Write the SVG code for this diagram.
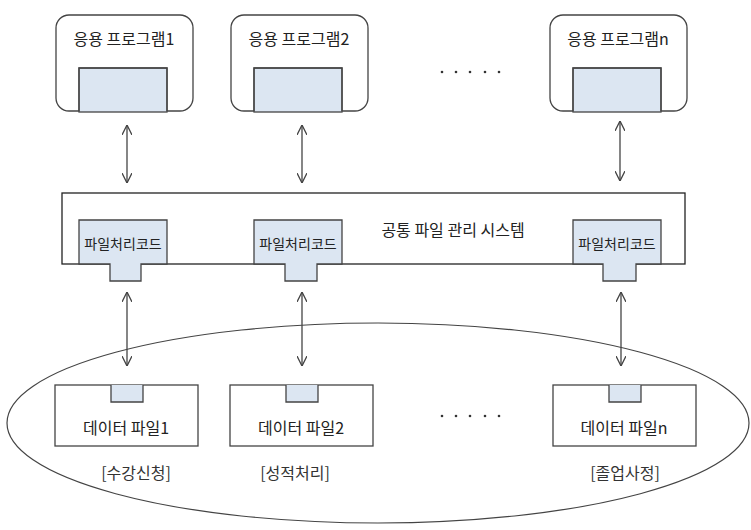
<svg xmlns="http://www.w3.org/2000/svg" width="751" height="530" viewBox="0 0 751 530">
<style>
text{font-family:"Noto Sans CJK KR","Liberation Sans",sans-serif;fill:#222}
.o{fill:#fff;stroke:#444;stroke-width:1.3}
.f{fill:#dce6f2;stroke:#444;stroke-width:1.3}
.t{font-size:16px;text-anchor:middle}
.s{font-size:14px;text-anchor:middle}
.c{stroke:#444;stroke-width:1.3;fill:none;marker-start:url(#a);marker-end:url(#a)}
.d{fill:#333}
</style>
<defs><marker id="a" viewBox="0 0 10 10" refX="10" refY="5" markerWidth="10" markerHeight="10" orient="auto-start-reverse" markerUnits="userSpaceOnUse"><path d="M0,0L10,5L0,10" fill="none" stroke="#444" stroke-width="1.3"/></marker></defs>
<ellipse cx="378" cy="423" rx="371" ry="100" fill="none" stroke="#444" stroke-width="1.2"/>
<g id="app1"><rect class="o" x="56" y="15" width="137" height="96" rx="13"/><rect class="f" x="79" y="68" width="88" height="44" stroke="none"/><path d="M79,111V68H167V111" fill="none" stroke="#444" stroke-width="1.3"/><text class="t" x="124" y="45">응용 프로그램1</text></g>
<g id="app2"><rect class="o" x="231" y="15" width="137" height="96" rx="13"/><rect class="f" x="254" y="68" width="88" height="44" stroke="none"/><path d="M254,111V68H342V111" fill="none" stroke="#444" stroke-width="1.3"/><text class="t" x="299" y="45">응용 프로그램2</text></g>
<g id="appn"><rect class="o" x="550" y="15" width="137" height="96" rx="13"/><rect class="f" x="573" y="68" width="88" height="44" stroke="none"/><path d="M573,111V68H661V111" fill="none" stroke="#444" stroke-width="1.3"/><text class="t" x="618" y="45">응용 프로그램n</text></g>
<g id="dots1"><circle class="d" cx="442" cy="72" r="1.3"/><circle class="d" cx="456" cy="72" r="1.3"/><circle class="d" cx="470" cy="72" r="1.3"/><circle class="d" cx="485" cy="72" r="1.3"/><circle class="d" cx="499" cy="72" r="1.3"/></g>
<g id="fms"><rect x="62" y="193" width="623" height="71" fill="#fff" stroke="#222" stroke-width="1.3"/><text x="453" y="236" class="t">공통 파일 관리 시스템</text>
<path class="f" d="M79,264V220H167V264H141V281H110V264Z"/><text class="s" x="123" y="249">파일처리코드</text>
<path class="f" d="M254,264V220H342V264H317V281H285V264Z"/><text class="s" x="298" y="249">파일처리코드</text>
<path class="f" d="M573,264V220H661V264H636V281H603V264Z"/><text class="s" x="617" y="249">파일처리코드</text></g>
<g id="df1"><rect class="o" x="55" y="385" width="143" height="61"/><path class="f" d="M111,385V402H143V385"/><text class="t" x="126" y="434">데이터 파일1</text><text class="t" x="136" y="479" style="fill:#333">[수강신청]</text></g>
<g id="df2"><rect class="o" x="230" y="385" width="143" height="61"/><path class="f" d="M286,385V402H318V385"/><text class="t" x="301" y="434">데이터 파일2</text><text class="t" x="295" y="479" style="fill:#333">[성적처리]</text></g>
<g id="dfn"><rect class="o" x="553" y="385" width="143" height="61"/><path class="f" d="M609,385V402H641V385"/><text class="t" x="624" y="434">데이터 파일n</text><text class="t" x="625" y="479" style="fill:#333">[졸업사정]</text></g>
<g id="dots2"><circle class="d" cx="442" cy="416" r="1.3"/><circle class="d" cx="456" cy="416" r="1.3"/><circle class="d" cx="470" cy="416" r="1.3"/><circle class="d" cx="485" cy="416" r="1.3"/><circle class="d" cx="499" cy="416" r="1.3"/></g>
<g id="connectors">
<line class="c" x1="127" y1="125" x2="127" y2="183"/><line class="c" x1="302" y1="125" x2="302" y2="183"/><line class="c" x1="620" y1="121" x2="620" y2="181"/>
<line class="c" x1="127" y1="292" x2="127" y2="366"/><line class="c" x1="302" y1="292" x2="302" y2="366"/><line class="c" x1="621" y1="292" x2="621" y2="366"/>
</g>
</svg>
